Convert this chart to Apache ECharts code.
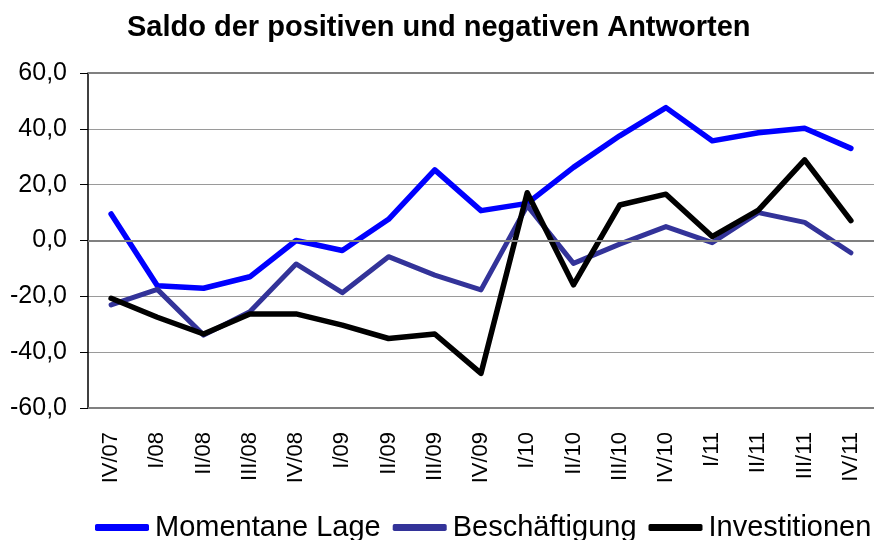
<!DOCTYPE html>
<html>
<head>
<meta charset="utf-8">
<script src="https://cdn.jsdelivr.net/npm/echarts@6/dist/echarts.min.js"></script>
<style>
html,body{margin:0;padding:0;background:#fff;}
#chart{width:874px;height:540px;}
</style>
</head>
<body>
<div id="chart"></div>
<script>
const categories = ['IV/07','I/08','II/08','III/08','IV/08','I/09','II/09','III/09','IV/09','I/10','II/10','III/10','IV/10','I/11','II/11','III/11','IV/11'];
const momentaneLage = [9.5, -16.2, -17.1, -13.0, 0.0, -3.6, 7.6, 25.3, 10.7, 13.3, 26.2, 37.5, 47.6, 35.7, 38.6, 40.2, 33.0];
const beschaeftigung = [-23.1, -17.5, -33.9, -25.5, -8.4, -18.7, -5.8, -12.4, -17.7, 12.5, -8.2, -1.3, 5.0, -0.8, 10.0, 6.5, -4.4];
const investitionen = [-20.7, -27.5, -33.5, -26.3, -26.3, -30.3, -35.1, -33.5, -47.6, 17.1, -15.9, 12.7, 16.6, 1.4, 10.9, 28.9, 7.1];
const yTicks = [-60, -40, -20, 0, 20, 40, 60];
const emphasisLines = [60, 0, -60];

const FONT = '"Liberation Sans", Arial, sans-serif';
const chart = echarts.init(document.getElementById('chart'), null, {renderer: 'canvas'});

function lineSeries(name, data, color, width) {
  return {
    name: name,
    type: 'line',
    data: data,
    symbol: 'none',
    animation: false,
    lineStyle: {color: color, width: width, cap: 'round', join: 'round'},
    itemStyle: {color: color}
  };
}

const series = [
  lineSeries('Momentane Lage', momentaneLage, '#0000FF', 5.5),
  lineSeries('Beschäftigung', beschaeftigung, '#333399', 5),
  lineSeries('Investitionen', investitionen, '#000000', 5.5)
];
series[0].markLine = {
  silent: true,
  symbol: 'none',
  label: {show: false},
  lineStyle: {color: '#808080', width: 2, type: 'solid'},
  data: emphasisLines.map(v => ({yAxis: v}))
};
series[0].z = 2;
series[1].z = 3;
series[2].z = 4;

chart.setOption({
  backgroundColor: '#fff',
  animation: false,
  title: {
    text: 'Saldo der positiven und negativen Antworten',
    left: 127,
    top: 13,
    padding: 0,
    textStyle: {fontFamily: FONT, fontSize: 29, fontWeight: 'bold', color: '#000'}
  },
  legend: {
    data: ['Momentane Lage', 'Beschäftigung', 'Investitionen'],
    left: 95,
    top: 513,
    padding: 0,
    icon: 'roundRect',
    itemWidth: 54,
    itemHeight: 7,
    itemGap: 12,
    textStyle: {fontFamily: FONT, fontSize: 29, color: '#000', padding: [0, 0, 0, 1]}
  },
  grid: {left: 88, top: 73, width: 791, height: 335, containLabel: false},
  xAxis: {
    type: 'category',
    data: categories,
    boundaryGap: true,
    position: 'bottom',
    axisLine: {show: false, onZero: false},
    axisTick: {show: false},
    axisLabel: {rotate: 90, margin: 24, fontFamily: FONT, fontSize: 22, color: '#000', interval: 0},
    splitLine: {show: false}
  },
  yAxis: {
    type: 'value',
    min: yTicks[0],
    max: yTicks[yTicks.length - 1],
    interval: 20,
    axisLine: {show: true, lineStyle: {color: '#000', width: 1.5}},
    axisTick: {show: true, length: 8, lineStyle: {color: '#000', width: 1}},
    axisLabel: {
      margin: 21,
      fontFamily: FONT,
      fontSize: 25,
      color: '#000',
      formatter: v => v.toFixed(1).replace('.', ',')
    },
    splitLine: {show: true, lineStyle: {color: '#9a9a9a', width: 1}}
  },
  series: series
});
</script>
</body>
</html>
